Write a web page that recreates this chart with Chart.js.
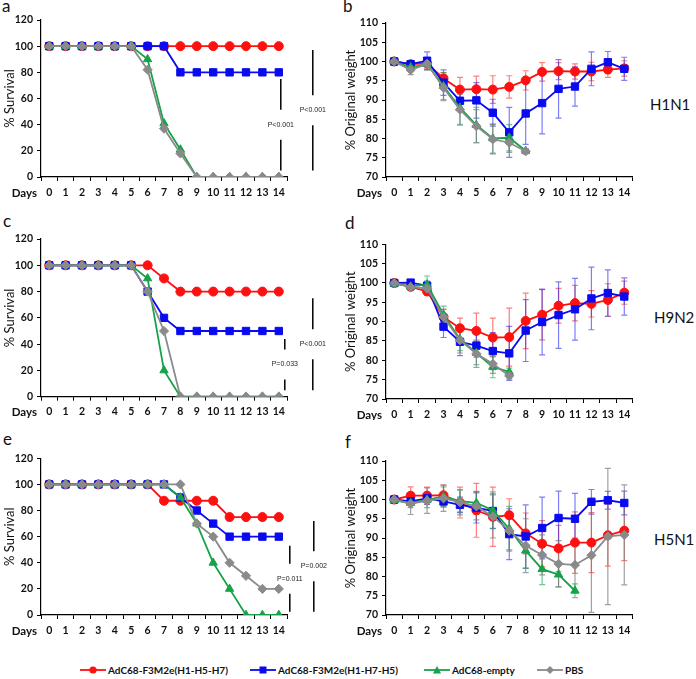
<!DOCTYPE html>
<html>
<head>
<meta charset="utf-8">
<script src="https://cdn.jsdelivr.net/npm/chart.js@4.4.1/dist/chart.umd.min.js"></script>
<style>
    body { margin: 0; background: #fff; width: 696px; height: 679px; position: relative; overflow: hidden; font-family: Lato, 'Open Sans', sans-serif; color: #111; }
    canvas { position: absolute; }
    .tag { position: absolute; font-size: 17px; line-height: 17px; }
    .virus { position: absolute; font-size: 15px; line-height: 15px; white-space: nowrap; }
    .leg { position: absolute; top: 663px; height: 14px; display: flex; align-items: center; font-size: 10px; font-weight: bold; white-space: nowrap; }
    .leg svg { margin-right: 2px; }
</style>
</head>
<body>
<div class="tag" style="left:2px;top:-3px">a</div>
<div class="tag" style="left:343px;top:-3px">b</div>
<div class="tag" style="left:3px;top:212px">c</div>
<div class="tag" style="left:345px;top:214px">d</div>
<div class="tag" style="left:3px;top:430px">e</div>
<div class="tag" style="left:345px;top:433px">f</div>
<div class="virus" style="left:650px;top:97px">H1N1</div>
<div class="virus" style="left:654px;top:310px">H9N2</div>
<div class="virus" style="left:654px;top:532px">H5N1</div>
<div id="legend"></div>
<script>
const DAYS = ['0', '1', '2', '3', '4', '5', '6', '7', '8', '9', '10', '11', '12', '13', '14'];
const SURVIVAL_TICKS = [0, 20, 40, 60, 80, 100, 120];
const WEIGHT_TICKS = [70, 75, 80, 85, 90, 95, 100, 105, 110];
const SERIES_NAMES = ['AdC68-F3M2e(H1-H5-H7)', 'AdC68-F3M2e(H1-H7-H5)', 'AdC68-empty', 'PBS'];

// a - survival H1N1
const aRed   = [100, 100, 100, 100, 100, 100, 100, 100, 100, 100, 100, 100, 100, 100, 100];
const aBlue  = [100, 100, 100, 100, 100, 100, 100, 100, 80, 80, 80, 80, 80, 80, 80];
const aGreen = [100, 100, 100, 100, 100, 100, 90, 41, 21, 0, 0, 0, 0, 0, 0];
const aGray  = [100, 100, 100, 100, 100, 100, 82, 37, 18, 0, 0, 0, 0, 0, 0];
const aP = ['P<0.001', 'P<0.001'];

// b - weight H1N1
const bRed      = [100, 99.3, 99.5, 95.6, 92.7, 92.8, 92.7, 93.4, 95.1, 97.3, 97.5, 97.4, 97.4, 97.9, 98.2];
const bRedErr   = [0, 0.6, 1.2, 1.5, 3.2, 3.4, 3.6, 2.9, 2.5, 2.4, 2.2, 2, 2.4, 2, 2];
const bBlue     = [100, 99.3, 100.2, 94.5, 89.8, 89.9, 86.7, 81.6, 86.5, 89.2, 92.9, 93.5, 98.1, 99.8, 98.1];
const bBlueErr  = [0, 0.8, 2.3, 3.3, 2.5, 4.6, 3.5, 6.5, 8, 8, 7.6, 5.1, 4.4, 2.8, 3];
const bGreen    = [100, 98.5, 99.3, 93.6, 88, 83.5, 80, 80.2, 76.8];
const bGreenErr = [0, 1, 1.5, 3.5, 4.3, 4.6, 3.8, 3.4, 0.6];
const bGray     = [100, 97.8, 99.4, 93.2, 87.5, 83.2, 79.8, 78.9, 76.7];
const bGrayErr  = [0, 1.2, 1.5, 3.4, 4, 4.3, 3.8, 2.5, 0.7];

// c - survival H9N2
const cRed   = [100, 100, 100, 100, 100, 100, 100, 90, 80, 80, 80, 80, 80, 80, 80];
const cBlue  = [100, 100, 100, 100, 100, 100, 80, 60, 50, 50, 50, 50, 50, 50, 50];
const cGreen = [100, 100, 100, 100, 100, 100, 90, 20, 0, 0, 0, 0, 0, 0, 0];
const cGray  = [100, 100, 100, 100, 100, 100, 80, 50, 0, 0, 0, 0, 0, 0, 0];
const cP = ['P=0.033', 'P<0.001'];

// d - weight H9N2
const dRed      = [100, 99, 97.8, 91.2, 88.3, 87.6, 85.9, 86, 90.2, 91.8, 94.1, 94.8, 94.6, 95.6, 97.5];
const dRedErr   = [0, 0.8, 1, 2, 2.6, 4.6, 5, 7.5, 7.2, 6.5, 4.5, 4.6, 3.4, 4.2, 3];
const dBlue     = [100, 100.1, 99.3, 88.7, 84.8, 83.8, 82.4, 81.8, 87.7, 89.9, 91.7, 93.2, 96, 97.4, 96.5];
const dBlueErr  = [0, 0.5, 1.2, 2.8, 3.6, 3, 4.8, 7, 8, 8.5, 8.6, 8, 8.1, 6, 4.8];
const dGreen    = [99.8, 99.1, 99.6, 91.8, 85.5, 81.9, 78.3, 77];
const dGreenErr = [0, 0.6, 2.2, 2.2, 3, 3, 2.8, 1];
const dGray     = [100, 98.9, 98.6, 91.2, 85.2, 81.7, 79.1, 76];
const dGrayErr  = [0, 0.8, 1, 2, 3.3, 3.5, 2.5, 0.8];

// e - survival H5N1
const eRed   = [100, 100, 100, 100, 100, 100, 100, 87.5, 87.5, 87.5, 87.5, 75, 75, 75, 75];
const eBlue  = [100, 100, 100, 100, 100, 100, 100, 100, 90, 80, 70, 60, 60, 60, 60];
const eGreen = [100, 100, 100, 100, 100, 100, 100, 100, 90, 70, 40, 20, 0, 0, 0];
const eGray  = [100, 100, 100, 100, 100, 100, 100, 100, 100, 70, 60, 40, 30, 20, 20];
const eP = ['P=0.011', 'P=0.002'];

// f - weight H5N1
const fRed      = [100, 101, 101, 101.1, 99.2, 97.2, 95.5, 95.9, 91.2, 88.5, 87.3, 88.8, 88.8, 90.7, 91.9];
const fRedErr   = [0, 2.3, 2.2, 2.7, 4, 7, 7.7, 4.3, 5.3, 6, 6, 8, 7.8, 8, 7.8];
const fBlue     = [100, 99.5, 100.3, 99.5, 98.6, 97.9, 97, 91, 90.4, 92.6, 95.2, 95, 99.4, 99.8, 99.1];
const fBlueErr  = [0, 1, 1.5, 1.5, 2, 4, 4.5, 6.6, 8.2, 8, 7, 6.6, 3.2, 2.3, 3.1];
const fGreen    = [99.8, 99.1, 99.9, 100.8, 99.6, 99.1, 97.2, 92.4, 86.7, 81.9, 80.5, 76.3];
const fGreenErr = [0, 1.2, 2, 2.5, 2.8, 3, 4.8, 5.8, 4.6, 4, 3.2, 1.8];
const fGray     = [100, 98.9, 99.7, 100.3, 99.3, 98.2, 95.6, 91.9, 88, 85.6, 83.3, 83, 85.5, 90.4, 90.8];
const fGrayErr  = [0, 2.8, 3.3, 3.4, 3.3, 3.5, 5.6, 5, 7, 5.2, 6, 7, 14.8, 17.7, 13];

const STYLES = [
    { color: '#ff1010', err: 'rgba(255,40,40,0.6)', point: 'circle', r: 4.5 },
    { color: '#0a0af0', err: 'rgba(20,20,240,0.55)', point: 'rect', r: 5.2 },
    { color: '#17a24a', err: 'rgba(20,160,80,0.6)', point: 'triangle', r: 4.8 },
    { color: '#8a8a8a', err: 'rgba(120,120,120,0.7)', point: 'rectRot', r: 4.6 },
];

const tickFont = { family: 'Lato', size: 10.5, weight: 'bold' };

// error bars under the lines
const errorBars = {
    id: 'errorBars',
    beforeDatasetsDraw(chart) {
        const { ctx, scales: { y } } = chart;
        chart.data.datasets.forEach((ds, i) => {
            if (!ds.errors) return;
            const meta = chart.getDatasetMeta(i);
            ctx.save();
            ctx.strokeStyle = ds.errColor;
            ctx.lineWidth = 1.2;
            meta.data.forEach((pt, j) => {
                const e = ds.errors[j];
                if (!e) return;
                const top = y.getPixelForValue(ds.data[j] + e);
                const bot = y.getPixelForValue(ds.data[j] - e);
                ctx.beginPath();
                ctx.moveTo(pt.x, top); ctx.lineTo(pt.x, bot);
                ctx.moveTo(pt.x - 3, top); ctx.lineTo(pt.x + 3, top);
                ctx.moveTo(pt.x - 3, bot); ctx.lineTo(pt.x + 3, bot);
                ctx.stroke();
            });
            ctx.restore();
        });
    }
};

const daysLabel = {
    id: 'daysLabel',
    afterDraw(chart) {
        const { ctx, chartArea } = chart;
        ctx.save();
        ctx.font = 'bold 11.5px Lato';
        ctx.fillStyle = '#111';
        ctx.textAlign = 'right';
        ctx.textBaseline = 'middle';
        ctx.fillText('Days', chartArea.left - 4, chartArea.bottom + 16);
        ctx.restore();
    }
};

// significance brackets to the right of day 14
const makeBrackets = list => ({
    id: 'brackets',
    afterDraw(chart) {
        if (!list) return;
        const { ctx, scales: { x, y } } = chart;
        const x14 = x.getPixelForValue(DAYS.length - 1);
        ctx.save();
        list.forEach(b => {
            const bx = x14 + b.dx;
            const top = y.getPixelForValue(b.hi), bot = y.getPixelForValue(b.lo);
            const mid = (top + bot) / 2;
            ctx.strokeStyle = '#000';
            ctx.lineWidth = 1.5;
            ctx.beginPath();
            ctx.moveTo(bx, top); ctx.lineTo(bx, mid - 15);
            ctx.moveTo(bx, mid + 15); ctx.lineTo(bx, bot);
            ctx.stroke();
            ctx.fillStyle = '#222';
            ctx.font = '7px "Liberation Sans"';
            ctx.textAlign = 'center';
            ctx.textBaseline = 'middle';
            ctx.fillText(b.label, bx, mid);
        });
        ctx.restore();
    }
});

function buildPanel(p) {
    const canvas = document.createElement('canvas');
    canvas.width = p.w;
    canvas.height = p.h;
    canvas.style.left = p.left + 'px';
    canvas.style.top = p.top + 'px';
    document.body.appendChild(canvas);

    const survival = p.kind === 'survival';
    const ticks = survival ? SURVIVAL_TICKS : WEIGHT_TICKS;

    const datasets = p.series.map((s, i) => ({
        label: SERIES_NAMES[i],
        data: s[0],
        errors: s[1],
        errColor: STYLES[i].err,
        borderColor: STYLES[i].color,
        backgroundColor: STYLES[i].color,
        pointStyle: STYLES[i].point,
        pointRadius: STYLES[i].r,
        pointBorderColor: STYLES[i].color,
        pointBorderWidth: 1,
        borderWidth: 1.8,
        tension: 0,
        order: 4 - i,
    }));

    const axisGrid = { drawOnChartArea: false, drawTicks: true, tickLength: 4, color: '#000', lineWidth: 1 };

    new Chart(canvas, {
        type: 'line',
        data: { labels: DAYS, datasets },
        options: {
            responsive: false,
            animation: false,
            events: [],
            layout: { padding: { left: 0, top: p.padTop, right: p.padRight, bottom: 0 } },
            plugins: { legend: { display: false }, tooltip: { enabled: false } },
            scales: {
                x: {
                    offset: true,
                    grid: { ...axisGrid, offset: true },
                    border: { color: '#000', width: 1.2 },
                    ticks: { font: tickFont, color: '#111', padding: 5, autoSkip: false, maxRotation: 0 },
                    afterFit: s => { s.height = p.xH; },
                },
                y: {
                    min: ticks[0],
                    max: ticks[ticks.length - 1],
                    afterBuildTicks: s => { s.ticks = ticks.map(v => ({ value: v })); },
                    grid: axisGrid,
                    border: { color: '#000', width: 1.2 },
                    ticks: { font: tickFont, color: '#111', padding: 4 },
                    title: {
                        display: true,
                        text: survival ? '% Survival' : '% Original weight',
                        font: { family: 'Lato', size: 13 },
                        color: '#111',
                        padding: { top: p.titlePad, bottom: 0 },
                    },
                    afterFit: s => { s.width = p.yW; },
                }
            }
        },
        plugins: [errorBars, daysLabel, makeBrackets(p.brackets)]
    });
}

const LEFT = { left: 0, w: 340, yW: 41, padRight: 53, titlePad: 2 };
const RIGHT = { left: 340, w: 300, yW: 46, padRight: 7.5, titlePad: 3 };

buildPanel({ ...LEFT, top: 0, h: 200, padTop: 20, xH: 23, kind: 'survival',
    series: [[aRed], [aBlue], [aGreen], [aGray]],
    brackets: [{ hi: 75, lo: 5, label: aP[0], dx: 2 }, { hi: 97, lo: 5, label: aP[1], dx: 34 }] });
buildPanel({ ...RIGHT, top: 0, h: 200, padTop: 23, xH: 23, kind: 'weight',
    series: [[bRed, bRedErr], [bBlue, bBlueErr], [bGreen, bGreenErr], [bGray, bGrayErr]] });
buildPanel({ ...LEFT, top: 200, h: 220, padTop: 39, xH: 23.3, kind: 'survival',
    series: [[cRed], [cBlue], [cGreen], [cGray]],
    brackets: [{ hi: 44, lo: 5, label: cP[0], dx: 6 }, { hi: 75, lo: 5, label: cP[1], dx: 34 }] });
buildPanel({ ...RIGHT, top: 200, h: 220, padTop: 44.3, xH: 21, kind: 'weight',
    series: [[dRed, dRedErr], [dBlue, dBlueErr], [dGreen, dGreenErr], [dGray, dGrayErr]] });
buildPanel({ ...LEFT, top: 420, h: 220, padTop: 38.3, xH: 25, kind: 'survival',
    series: [[eRed], [eBlue], [eGreen], [eGray]],
    brackets: [{ hi: 53, lo: 2.5, label: eP[0], dx: 11 }, { hi: 72, lo: 2.5, label: eP[1], dx: 35 }] });
buildPanel({ ...RIGHT, top: 420, h: 220, padTop: 41, xH: 25, kind: 'weight',
    series: [[fRed, fRedErr], [fBlue, fBlueErr], [fGreen, fGreenErr], [fGray, fGrayErr]] });

// legend
const LEGEND_LEFT = [80, 250, 424, 537];
const markerSvg = i => {
    const c = STYLES[i].color;
    const shapes = [
        `<circle cx="13" cy="6" r="3.6" fill="${c}"/>`,
        `<rect x="9.5" y="2.5" width="7" height="7" fill="${c}"/>`,
        `<polygon points="13,2 17,9.5 9,9.5" fill="${c}"/>`,
        `<polygon points="13,2 17,6 13,10 9,6" fill="${c}"/>`,
    ];
    return `<svg width="26" height="12"><line x1="0" y1="6" x2="26" y2="6" stroke="${c}" stroke-width="1.8"/>${shapes[i]}</svg>`;
};
document.getElementById('legend').innerHTML = SERIES_NAMES.map((name, i) =>
    `<div class="leg" style="left:${LEGEND_LEFT[i]}px">${markerSvg(i)}<span>${name}</span></div>`
).join('');
</script>
</body>
</html>
